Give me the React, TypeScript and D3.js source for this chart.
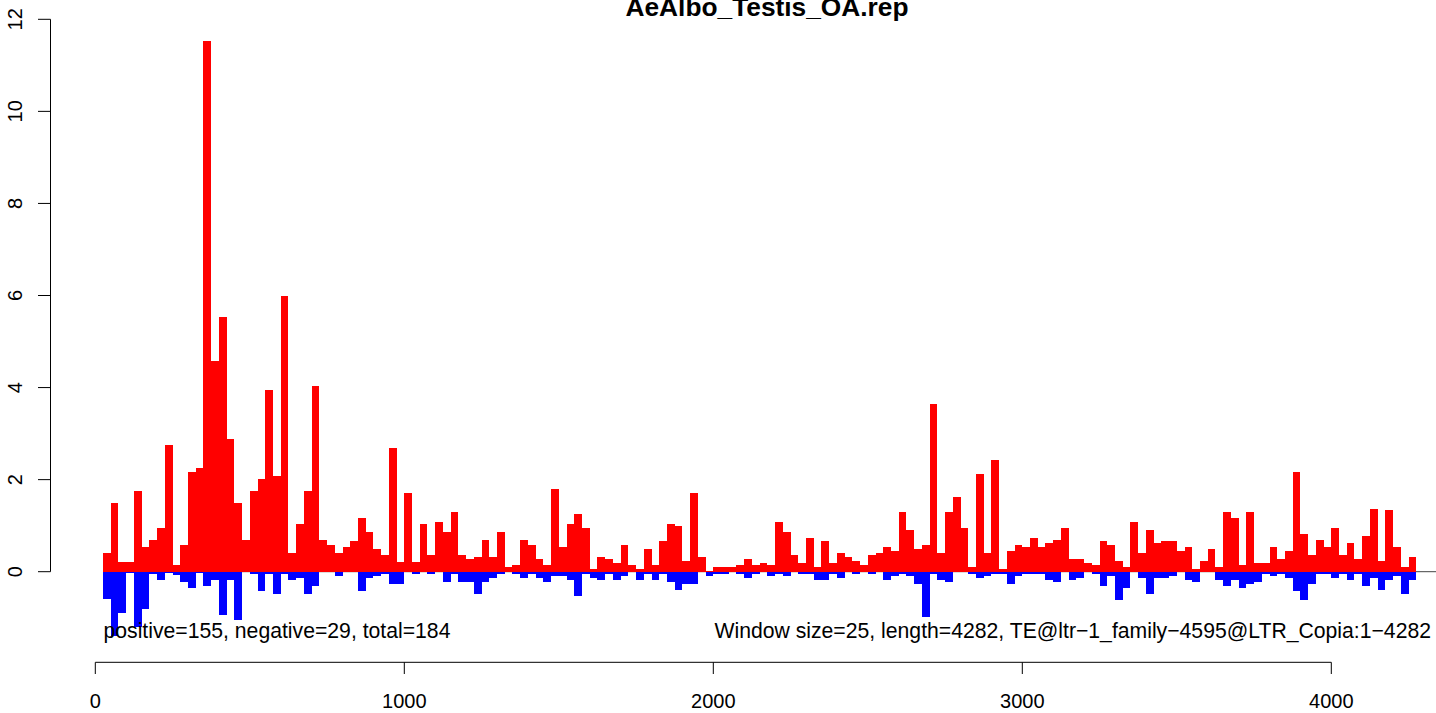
import React from "react";
import * as d3 from "d3";

const WINDOW = 25;
const TITLE = "AeAlbo_Testis_OA.rep";
const LEFT_NOTE = "positive=155, negative=29, total=184";
const RIGHT_NOTE = "Window size=25, length=4282, TE@ltr\u22121_family\u22124595@LTR_Copia:1\u22124282";

const xTicks = [0, 1000, 2000, 3000, 4000];
const yTicks = [0, 2, 4, 6, 8, 10, 12];

// positive (sense) values per 25-bp window, windows starting at 25, 50, ...
const posValues = [
  0.41, 1.49, 0.2, 0.2, 1.75, 0.54, 0.69, 0.95, 2.75, 0.14,
  0.58, 2.17, 2.25, 11.53, 4.58, 5.53, 2.88, 1.49, 0.69, 1.75,
  2.01, 3.95, 2.08, 6.0, 0.41, 1.04, 1.75, 4.04, 0.69, 0.58,
  0.41, 0.54, 0.67, 1.17, 0.86, 0.49, 0.36, 2.69, 0.2, 1.71,
  0.2, 1.04, 0.36, 1.08, 0.86, 1.3, 0.36, 0.28, 0.32, 0.69,
  0.32, 0.86, 0.1, 0.14, 0.69, 0.58, 0.28, 0.14, 1.8, 0.54,
  1.04, 1.25, 0.95, 0.06, 0.32, 0.28, 0.19, 0.58, 0.14, 0.06,
  0.49, 0.14, 0.67, 1.04, 0.99, 0.23, 1.71, 0.32, 0.02, 0.1,
  0.1, 0.1, 0.14, 0.28, 0.14, 0.19, 0.14, 1.08, 0.86, 0.36,
  0.19, 0.73, 0.1, 0.67, 0.19, 0.41, 0.32, 0.23, 0.14, 0.36,
  0.41, 0.54, 0.45, 1.3, 0.9, 0.49, 0.58, 3.64, 0.41, 1.3,
  1.63, 0.95, 0.1, 2.12, 0.41, 2.43, 0.06, 0.45, 0.58, 0.54,
  0.73, 0.54, 0.62, 0.69, 0.95, 0.28, 0.28, 0.19, 0.14, 0.67,
  0.58, 0.23, 0.1, 1.08, 0.41, 0.9, 0.62, 0.67, 0.67, 0.45,
  0.54, 0.06, 0.23, 0.49, 0.1, 1.3, 1.17, 0.14, 1.3, 0.19,
  0.19, 0.54, 0.28, 0.45, 2.17, 0.82, 0.36, 0.69, 0.54, 0.95,
  0.36, 0.62, 0.28, 0.77, 1.36, 0.23, 1.34, 0.54, 0.1, 0.32,
];

// negative (antisense) values per window, drawn below zero
const negValues = [
  0.6, 1.4, 0.89, 0.03, 1.2, 0.8, 0.04, 0.18, 0.02, 0.08,
  0.22, 0.35, 0.02, 0.3, 0.18, 0.93, 0.18, 1.06, 0.01, 0.04,
  0.43, 0.04, 0.48, 0.04, 0.17, 0.13, 0.48, 0.3, 0.01, 0.01,
  0.09, 0.01, 0.01, 0.43, 0.13, 0.09, 0.04, 0.26, 0.26, 0.01,
  0.04, 0.01, 0.04, 0.01, 0.22, 0.04, 0.22, 0.22, 0.48, 0.22,
  0.13, 0.04, 0.01, 0.04, 0.13, 0.04, 0.13, 0.22, 0.09, 0.09,
  0.17, 0.52, 0.04, 0.13, 0.17, 0.04, 0.17, 0.09, 0.01, 0.17,
  0.04, 0.17, 0.04, 0.22, 0.39, 0.26, 0.26, 0.01, 0.09, 0.04,
  0.04, 0.01, 0.04, 0.13, 0.04, 0.01, 0.09, 0.04, 0.09, 0.01,
  0.04, 0.04, 0.17, 0.17, 0.04, 0.13, 0.01, 0.04, 0.01, 0.04,
  0.01, 0.17, 0.09, 0.04, 0.09, 0.26, 0.98, 0.04, 0.17, 0.22,
  0.01, 0.01, 0.04, 0.13, 0.09, 0.04, 0.04, 0.26, 0.09, 0.04,
  0.04, 0.04, 0.17, 0.22, 0.01, 0.17, 0.13, 0.01, 0.04, 0.3,
  0.09, 0.61, 0.35, 0.01, 0.13, 0.48, 0.13, 0.13, 0.09, 0.01,
  0.17, 0.22, 0.01, 0.01, 0.17, 0.3, 0.17, 0.35, 0.26, 0.22,
  0.04, 0.09, 0.04, 0.13, 0.43, 0.61, 0.26, 0.04, 0.04, 0.13,
  0.04, 0.17, 0.04, 0.3, 0.13, 0.39, 0.17, 0.09, 0.48, 0.17,
];

const W = 1436;
const H = 713;
const FONT = "'Liberation Sans', Arial, Helvetica, sans-serif";

export default function App() {
  const x = d3.scaleLinear().domain([0, 4000]).range([95.3, 1331.3]);
  const y = d3.scaleLinear().domain([0, 12]).range([571.7, 19.3]);
  const starts = posValues.map((_, i) => WINDOW * (i + 1));
  const y0 = y(0);

  return (
    <div style={{ position: "fixed", left: 0, top: 0, width: W, height: H, background: "#fff" }}>
      <svg width={W} height={H} style={{ display: "block" }} fontFamily={FONT}>
        <rect x={0} y={0} width={W} height={H} fill="#fff" />
        {/* zero line */}
        <line x1={x(starts[0])} x2={W} y1={y0} y2={y0} stroke="#444" strokeWidth={1} />
        {/* positive bars */}
        {posValues.map((v, i) => (
          <rect
            key={"p" + i}
            x={x(starts[i])}
            y={y(v)}
            width={x(starts[i] + WINDOW) - x(starts[i])}
            height={y0 - y(v)}
            fill="#FF0000"
            shapeRendering="crispEdges"
          />
        ))}
        {/* negative bars */}
        {negValues.map((v, i) => (
          <rect
            key={"n" + i}
            x={x(starts[i])}
            y={y0}
            width={x(starts[i] + WINDOW) - x(starts[i])}
            height={y(-v) - y0}
            fill="#0000FF"
            shapeRendering="crispEdges"
          />
        ))}
        {/* y axis */}
        <line x1={50.5} x2={50.5} y1={y(12)} y2={y(0)} stroke="#000" strokeWidth={1} />
        {yTicks.map((t) => (
          <g key={"yt" + t}>
            <line x1={38} x2={50.5} y1={y(t)} y2={y(t)} stroke="#000" strokeWidth={1} />
            <text
              transform={`translate(22,${y(t)}) rotate(-90)`}
              textAnchor="middle"
              fontSize={20}
              fill="#000"
            >
              {t}
            </text>
          </g>
        ))}
        {/* x axis */}
        <line x1={x(0)} x2={x(4000)} y1={662.3} y2={662.3} stroke="#000" strokeWidth={1} />
        {xTicks.map((t) => (
          <g key={"xt" + t}>
            <line x1={x(t)} x2={x(t)} y1={662.3} y2={674} stroke="#000" strokeWidth={1} />
            <text x={x(t)} y={708} textAnchor="middle" fontSize={20} fill="#000">
              {t}
            </text>
          </g>
        ))}
        {/* annotations */}
        <text x={103.5} y={638} fontSize={21.2} fill="#000">
          {LEFT_NOTE}
        </text>
        <text x={1431} y={638} fontSize={21.2} textAnchor="end" fill="#000">
          {RIGHT_NOTE}
        </text>
        {/* title (clipped at the top edge, as in the original) */}
        <text x={767} y={16} fontSize={26.3} fontWeight="bold" textAnchor="middle" fill="#000">
          {TITLE}
        </text>
      </svg>
    </div>
  );
}
